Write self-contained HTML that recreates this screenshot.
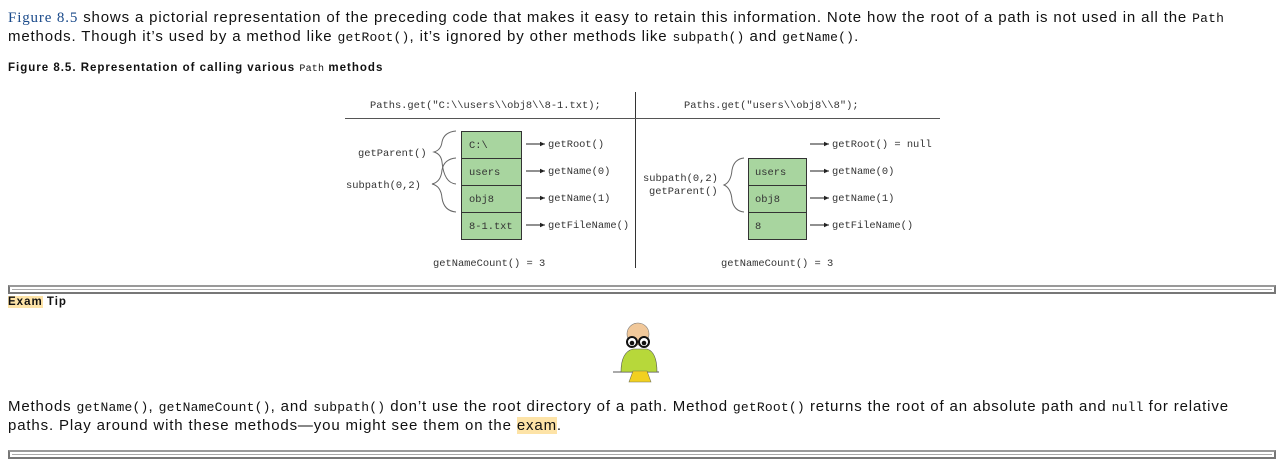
<!DOCTYPE html>
<html><head><meta charset="utf-8"><style>
html,body{margin:0;padding:0;background:#fff;width:1279px;height:462px;overflow:hidden;position:relative}
.t{position:absolute;font-family:"Liberation Sans",sans-serif;font-size:15px;color:#111;white-space:nowrap;letter-spacing:0.85px}
code{font-family:"Liberation Mono",monospace;font-size:13px;letter-spacing:0.2px}
.hl{background:#fde3a7}
.b{font-size:11.5px;font-weight:bold;letter-spacing:1px}
.rule{position:absolute;left:8px;width:1264px;height:5px;border:2px solid #777;border-top-color:#999;box-sizing:content-box}
.rule::after{content:"";position:absolute;left:2px;right:2px;top:2px;height:1px;background:#aaa}
svg text{font-family:"Liberation Mono",monospace;font-size:10.4px;fill:#333}
</style></head><body>
<div class="t" style="left:8px;top:9px"><span style="font-family:'Liberation Serif',serif;color:#1a4a8a">Figure 8.5</span> shows a pictorial representation of the preceding code that makes it easy to retain this information. Note how the root of a path is not used in all the <code>Path</code></div>
<div class="t" style="left:8px;top:28px">methods. Though it’s used by a method like <code>getRoot()</code>, it’s ignored by other methods like <code>subpath()</code> and <code>getName()</code>.</div>
<div class="t b" style="left:8px;top:62px">Figure 8.5. Representation of calling various <code style="font-size:10px;font-weight:normal">Path</code> methods</div>

<svg style="position:absolute;left:0;top:0" width="1279" height="462">
<defs><marker id="a" markerWidth="6" markerHeight="6" refX="5" refY="3" orient="auto"><path d="M0,0.8 L5,3 L0,5.2z" fill="#222"/></marker></defs>
<line x1="635.5" y1="92" x2="635.5" y2="268" stroke="#333"/>
<line x1="345" y1="118.5" x2="940" y2="118.5" stroke="#555"/>
<text x="370" y="108">Paths.get("C:\\users\\obj8\\8-1.txt);</text>
<text x="684" y="108">Paths.get("users\\obj8\\8");</text>
<g fill="#a8d59f" stroke="#333">
<rect x="461.5" y="131.5" width="60" height="27"/><rect x="461.5" y="158.5" width="60" height="27"/><rect x="461.5" y="185.5" width="60" height="27"/><rect x="461.5" y="212.5" width="60" height="27"/>
<rect x="748.5" y="158.5" width="58" height="27"/><rect x="748.5" y="185.5" width="58" height="27"/><rect x="748.5" y="212.5" width="58" height="27"/>
</g>
<text x="469" y="148">C:\</text><text x="469" y="175">users</text><text x="469" y="202">obj8</text><text x="469" y="229">8-1.txt</text>
<text x="755" y="175">users</text><text x="755" y="202">obj8</text><text x="755" y="229">8</text>
<g stroke="#222" marker-end="url(#a)">
<line x1="526" y1="144" x2="545" y2="144"/><line x1="526" y1="171" x2="545" y2="171"/><line x1="526" y1="198" x2="545" y2="198"/><line x1="526" y1="225" x2="545" y2="225"/>
<line x1="810" y1="144" x2="829" y2="144"/><line x1="810" y1="171" x2="829" y2="171"/><line x1="810" y1="198" x2="829" y2="198"/><line x1="810" y1="225" x2="829" y2="225"/>
</g>
<text x="548" y="147">getRoot()</text><text x="548" y="174">getName(0)</text><text x="548" y="201">getName(1)</text><text x="548" y="228">getFileName()</text>
<text x="832" y="147">getRoot() = null</text><text x="832" y="174">getName(0)</text><text x="832" y="201">getName(1)</text><text x="832" y="228">getFileName()</text>
<text x="358" y="156">getParent()</text><text x="346" y="188">subpath(0,2)</text>
<text x="643" y="181">subpath(0,2)</text><text x="649" y="194">getParent()</text>
<text x="433" y="266">getNameCount() = 3</text><text x="721" y="266">getNameCount() = 3</text>
<g fill="none" stroke="#666">
<path d="M456,131 Q444,132 442,142 Q441,150 434,152 Q441,154 442,162 Q444,183 456,184"/>
<path d="M456,158 Q444,159 442,170 Q441,182 432,184 Q441,186 442,198 Q444,211 456,212"/>
<path d="M744,158 Q734,159 732,170 Q731,182 724,185 Q731,188 732,200 Q734,211 744,212"/>
</g>
<g transform="translate(613,322)">
<line x1="0" y1="50" x2="46" y2="50" stroke="#555"/>
<path d="M8,50 Q8,30 20,27 L34,27 Q44,30 44,50z" fill="#b7d83a" stroke="#555" stroke-width=".6"/>
<circle cx="25" cy="12" r="11" fill="#f1c89a" stroke="#777" stroke-width=".6"/>
<circle cx="19" cy="20" r="5" fill="#fff" stroke="#111" stroke-width="2"/><circle cx="31" cy="20" r="5" fill="#fff" stroke="#111" stroke-width="2"/>
<circle cx="19" cy="21" r="2.3" fill="#111"/><circle cx="31" cy="21" r="2.3" fill="#111"/>
<path d="M16,60 L20,49 L34,49 L38,60z" fill="#f2d020" stroke="#775" stroke-width=".6"/>
</g>
</svg>

<div class="rule" style="top:285px"></div>
<div class="t b" style="left:8px;top:296px"><span class="hl">Exam</span> Tip</div>
<div class="t" style="left:8px;top:398px">Methods <code>getName()</code>, <code>getNameCount()</code>, and <code>subpath()</code> don’t use the root directory of a path. Method <code>getRoot()</code> returns the root of an absolute path and <code>null</code> for relative</div>
<div class="t" style="left:8px;top:417px">paths. Play around with these methods—you might see them on the <span class="hl">exam</span>.</div>
<div class="rule" style="top:450px"></div>
</body></html>
